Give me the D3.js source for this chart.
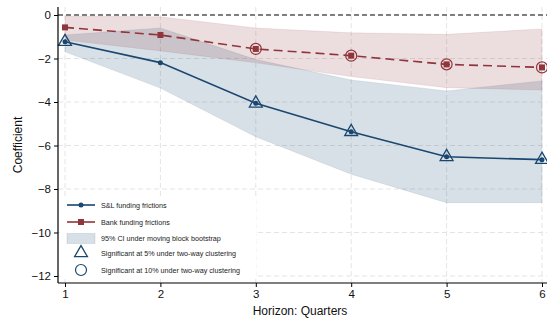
<!DOCTYPE html>
<html>
<head>
<meta charset="utf-8">
<script src="https://cdn.jsdelivr.net/npm/d3@7"></script>
<style>
  html, body { margin: 0; padding: 0; background: #fff; }
  svg { display: block; font-family: "Liberation Sans", Arial, sans-serif; }
</style>
</head>
<body>
<svg id="chart" width="547" height="320"></svg>
<script>
// Horizons (quarters)
const horizons = [1, 2, 3, 4, 5, 6];

// Point estimates
const slCoef   = [-1.23, -2.19, -4.06, -5.37, -6.52, -6.65];
const bankCoef = [-0.57, -0.92, -1.56, -1.87, -2.27, -2.41];

// 95% CI under moving block bootstrap
const slLower   = [-1.69, -3.36, -5.60, -7.32, -8.63, -8.63];
const slUpper   = [-0.92, -0.60, -2.05, -2.99, -3.49, -3.03];
const bankLower = [-1.15, -1.65, -2.20, -2.83, -3.34, -3.45];
const bankUpper = [-0.05, -0.08, -0.60, -0.82, -0.89, -0.64];

// Significance under two-way clustering
const slSig5     = [true, false, true, true, true, true];
const bankSig10  = [false, false, true, true, true, true];

const yTicks = [0, -2, -4, -6, -8, -10, -12];

const legendLabels = [
  "S&L funding frictions",
  "Bank funding frictions",
  "95% CI under moving block bootstrap",
  "Significant at 5% under two-way clustering",
  "Significant at 10% under two-way clustering"
];

const navy = "#1a476f";
const maroon = "#90353b";

const svg = d3.select("#chart");
const plot = { left: 58, right: 547, top: 7, bottom: 283 };

const x = d3.scaleLinear().domain([1, 6]).range([65, 542]);
const y = d3.scaleLinear().domain([0, -12]).range([15, 276]);

// Grid lines
const grid = svg.append("g");
grid.selectAll("line.h").data(yTicks.filter(d => d !== 0)).join("line")
  .attr("x1", plot.left).attr("x2", plot.right)
  .attr("y1", d => y(d)).attr("y2", d => y(d))
  .attr("stroke", "#e4e4e4").attr("stroke-width", 1).attr("stroke-dasharray", "5,3");
grid.selectAll("line.v").data(horizons).join("line")
  .attr("x1", d => x(d)).attr("x2", d => x(d))
  .attr("y1", plot.top).attr("y2", plot.bottom)
  .attr("stroke", "#e4e4e4").attr("stroke-width", 1).attr("stroke-dasharray", "5,3");

// Confidence bands
const rows = horizons.map((h, i) => ({
  h, sl: slCoef[i], bank: bankCoef[i],
  slLo: slLower[i], slHi: slUpper[i], bLo: bankLower[i], bHi: bankUpper[i],
  sig5: slSig5[i], sig10: bankSig10[i]
}));

const slArea = d3.area().x(d => x(d.h)).y0(d => y(d.slLo)).y1(d => y(d.slHi));
const bankArea = d3.area().x(d => x(d.h)).y0(d => y(d.bLo)).y1(d => y(d.bHi));

svg.append("path").datum(rows).attr("d", slArea)
  .attr("fill", navy).attr("fill-opacity", 0.17)
  .attr("stroke", navy).attr("stroke-opacity", 0.12).attr("stroke-width", 0.8);
svg.append("path").datum(rows).attr("d", bankArea)
  .attr("fill", maroon).attr("fill-opacity", 0.17)
  .attr("stroke", maroon).attr("stroke-opacity", 0.12).attr("stroke-width", 0.8);

// Zero reference line
svg.append("line")
  .attr("x1", plot.left).attr("x2", plot.right)
  .attr("y1", y(0)).attr("y2", y(0))
  .attr("stroke", "#555").attr("stroke-width", 1.5).attr("stroke-dasharray", "5,3");

// Lines
const slLine = d3.line().x(d => x(d.h)).y(d => y(d.sl));
const bankLine = d3.line().x(d => x(d.h)).y(d => y(d.bank));

svg.append("path").datum(rows).attr("d", bankLine)
  .attr("fill", "none").attr("stroke", maroon).attr("stroke-width", 1.6)
  .attr("stroke-dasharray", "9,5");
svg.append("path").datum(rows).attr("d", slLine)
  .attr("fill", "none").attr("stroke", navy).attr("stroke-width", 1.6);

// Markers
svg.selectAll("rect.bank").data(rows).join("rect")
  .attr("x", d => x(d.h) - 3).attr("y", d => y(d.bank) - 3)
  .attr("width", 6).attr("height", 6).attr("fill", maroon);
svg.selectAll("circle.sl").data(rows).join("circle")
  .attr("cx", d => x(d.h)).attr("cy", d => y(d.sl)).attr("r", 2.5).attr("fill", navy);

const tri = d3.symbol().type(d3.symbolTriangle).size(72);
svg.selectAll("path.sig5").data(rows.filter(d => d.sig5)).join("path")
  .attr("d", tri)
  .attr("transform", d => `translate(${x(d.h)},${y(d.sl)})`)
  .attr("fill", "none").attr("stroke", navy).attr("stroke-width", 1.3);
svg.selectAll("circle.sig10").data(rows.filter(d => d.sig10)).join("circle")
  .attr("cx", d => x(d.h)).attr("cy", d => y(d.bank)).attr("r", 5.5)
  .attr("fill", "none").attr("stroke", maroon).attr("stroke-width", 1.2);

// Axes
const yAxis = d3.axisLeft(y).tickValues(yTicks).tickSize(4).tickPadding(3).tickFormat(d3.format("d"));
const xAxis = d3.axisBottom(x).tickValues(horizons).tickSize(4).tickPadding(3).tickFormat(d3.format("d"));

const gy = svg.append("g").attr("transform", `translate(${plot.left},0)`).call(yAxis);
gy.select(".domain").attr("d", `M0,${plot.top}V${plot.bottom}`);
const gx = svg.append("g").attr("transform", `translate(0,${plot.bottom})`).call(xAxis);
gx.select(".domain").attr("d", `M${plot.left},0H${plot.right}`);

[gx, gy].forEach(g => {
  g.selectAll(".domain").attr("stroke", "#000").attr("stroke-width", 1.2);
  g.selectAll(".tick line").attr("stroke", "#000");
  g.selectAll("text").attr("font-size", 11.5).attr("fill", "#111")
    .attr("font-family", "Liberation Sans, Arial, sans-serif");
});

// Axis titles
svg.append("text").attr("x", 300).attr("y", 315).attr("text-anchor", "middle")
  .attr("font-size", 12).attr("fill", "#111").text("Horizon: Quarters");
svg.append("text").attr("transform", "translate(22,145) rotate(-90)")
  .attr("text-anchor", "middle").attr("font-size", 12).attr("fill", "#111").text("Coefficient");

// Legend
const lg = svg.append("g");
lg.append("rect").attr("x", 60).attr("y", 196).attr("width", 196).attr("height", 82).attr("fill", "#fff");
const lx0 = 67, lx1 = 95, lcx = 81, tx = 101;
const ly = [205, 222, 238.5, 253, 270];

lg.append("line").attr("x1", lx0).attr("x2", lx1).attr("y1", ly[0]).attr("y2", ly[0])
  .attr("stroke", navy).attr("stroke-width", 1.6);
lg.append("circle").attr("cx", lcx).attr("cy", ly[0]).attr("r", 2.5).attr("fill", navy);

lg.append("line").attr("x1", lx0).attr("x2", lx1).attr("y1", ly[1]).attr("y2", ly[1])
  .attr("stroke", maroon).attr("stroke-width", 1.6);
lg.append("rect").attr("x", lcx - 3).attr("y", ly[1] - 3).attr("width", 6).attr("height", 6).attr("fill", maroon);

lg.append("rect").attr("x", lx0).attr("y", ly[2] - 5).attr("width", lx1 - lx0).attr("height", 10)
  .attr("fill", navy).attr("fill-opacity", 0.17)
  .attr("stroke", navy).attr("stroke-opacity", 0.15).attr("stroke-width", 0.8);

lg.append("path").attr("d", tri).attr("transform", `translate(${lcx},${ly[3]})`)
  .attr("fill", "none").attr("stroke", navy).attr("stroke-width", 1.3);
lg.append("circle").attr("cx", lcx).attr("cy", ly[4]).attr("r", 5.5)
  .attr("fill", "none").attr("stroke", navy).attr("stroke-width", 1.2);

lg.selectAll("text.lab").data(legendLabels).join("text")
  .attr("x", tx).attr("y", (d, i) => ly[i]).attr("dy", "0.35em")
  .attr("font-size", 7.2).attr("fill", "#222").text(d => d);
</script>
</body>
</html>
